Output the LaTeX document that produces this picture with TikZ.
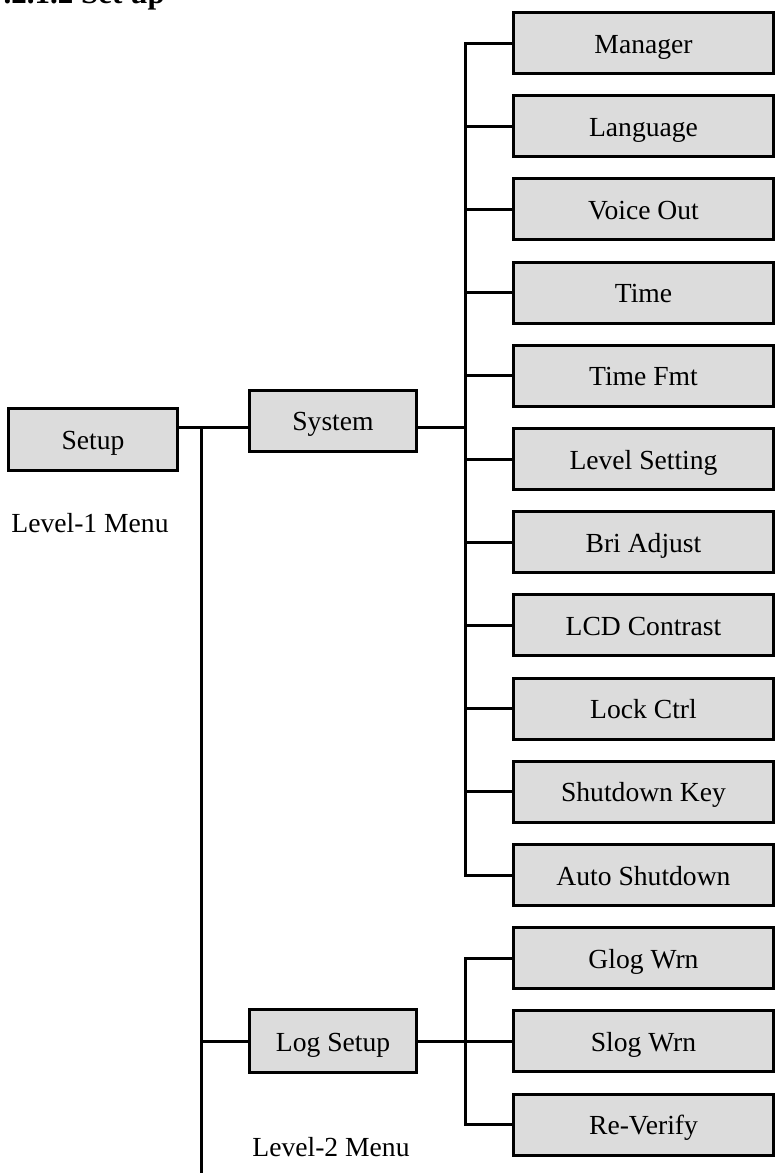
\documentclass[tikz,border=0pt]{standalone}
\usepackage{fontspec}
\setmainfont{Liberation Serif}
\usetikzlibrary{positioning}
\definecolor{menuGray}{RGB}{220, 220, 220}

\begin{document}
\begin{tikzpicture}[
  x=1pt, y=1pt,
  node distance=19.2pt,
  every node/.style={font=\fontsize{27.6pt}{33pt}\selectfont},
  menubox/.style={draw, line width=3pt, fill=menuGray, minimum width=167pt, minimum height=61pt,
    text height=20pt, text depth=0pt, inner sep=0pt},
  leafbox/.style={menubox, minimum width=260pt},
  caption/.style={inner sep=0pt},
  link/.style={line width=3pt}
]
\useasboundingbox (0,0) rectangle (776,-1173);

% title, cut off at the top of the page
\node[anchor=base east, inner sep=0pt, font=\bfseries\fontsize{31pt}{36pt}\selectfont] (title) at (165,-3) {.2.1.2 Set up};

% level 1
\node[menubox, minimum width=169pt, minimum height=62pt] (setup) at (93,-439.5) {Setup};
\node[caption] (level1) at (90,-523) {Level-1 Menu};

% level 2
\node[menubox] (system) at (333,-420.5) {System};
\node[menubox, minimum height=63pt] (logsetup) at (333,-1041) {Log Setup};
\node[caption] (level2) at (331,-1147) {Level-2 Menu};

% level 3
\node[leafbox] (manager) at (643.5,-43) {Manager};
\node[leafbox, below=of manager] (language) {Language};
\node[leafbox, below=of language] (voiceout) {Voice Out};
\node[leafbox, below=of voiceout] (time) {Time};
\node[leafbox, below=of time] (timefmt) {Time Fmt};
\node[leafbox, below=of timefmt] (levelset) {Level Setting};
\node[leafbox, below=of levelset] (briadj) {Bri Adjust};
\node[leafbox, below=of briadj] (lcdcon) {LCD Contrast};
\node[leafbox, below=of lcdcon] (lockctrl) {Lock Ctrl};
\node[leafbox, below=of lockctrl] (shutkey) {Shutdown Key};
\node[leafbox, below=of shutkey] (autoshut) {Auto Shutdown};
\node[leafbox, below=of autoshut] (glog) {Glog Wrn};
\node[leafbox, below=of glog] (slog) {Slog Wrn};
\node[leafbox, below=of slog] (reverify) {Re-Verify};

% buses
\coordinate (mainbus) at (201,-427);
\coordinate (mainend) at (201,-1173);
\coordinate (sysbus) at (465,-427);
\coordinate (logbus) at (465,-1041);

\draw[link] (setup.east |- mainbus) -- (system.west |- mainbus);
\draw[link] (mainbus) -- (mainend);
\draw[link] (mainbus |- logsetup) -- (logsetup.west);
\draw[link] (system.east |- sysbus) -- (sysbus);
\draw[link] (manager.west) -- (sysbus |- manager) -- (sysbus |- autoshut) -- (autoshut.west);
\foreach \leaf in {language,voiceout,time,timefmt,levelset,briadj,lcdcon,lockctrl,shutkey}
  \draw[link] (sysbus |- \leaf) -- (\leaf.west);
\draw[link] (logsetup.east) -- (logbus);
\draw[link] (glog.west) -- (logbus |- glog) -- (logbus |- reverify) -- (reverify.west);
\draw[link] (logbus |- slog) -- (slog.west);
\end{tikzpicture}
\end{document}
